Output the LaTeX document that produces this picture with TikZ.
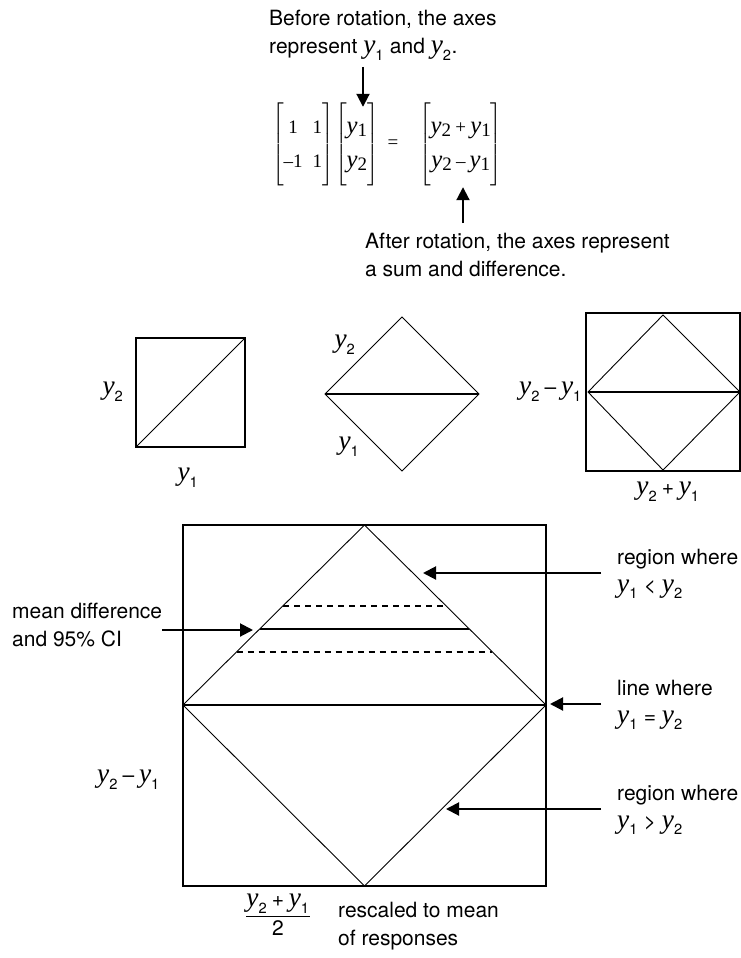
\documentclass[tikz,border=0pt]{standalone}
\usepackage{fix-cm}
\usepackage{amsmath}
\usepackage{fontspec}
\setmainfont{TeX Gyre Heros}
\newfontfamily\serifont{Liberation Serif}
\newfontfamily\yfont{Liberation Serif}[Scale=1.3]
\usetikzlibrary{arrows.meta,calc}

% italic y with a subscript (labels)
\newcommand\yy[1]{\text{\yfont\itshape y}_{\text{#1}}}
% italic y with a full size index (equation)
\newcommand\yb[1]{\text{{\yfont\itshape y}\raisebox{-3pt}{#1}}}
\newcommand\tplus{\mathbin{\text{+}}}
\newcommand\tminus{\mathbin{\text{–}}}
\newcommand\trel[1]{\mathrel{\text{#1}}}
% tall bracketed column
\newcommand\tallbr[1]{\left[\vcenter{\hbox{\rule{0pt}{86pt}}}\begin{matrix}#1\end{matrix}\right]}

\tikzset{
  box/.style={line width=2pt},
  edge/.style={line width=0.9pt},
  ptr/.style={line width=2pt,-{Triangle[length=13pt,width=13pt]}},
  txt/.style={inner sep=0pt,align=left,font=\fontsize{21}{28}\selectfont},
  axlbl/.style={inner sep=0pt,font=\fontsize{21}{25}\selectfont},
  eqn/.style={inner sep=0pt,font=\fontsize{19}{24}\selectfont\serifont\renewcommand\arraystretch{1.4}}
}

\begin{document}
\begin{tikzpicture}[x=1pt,y=-1pt]
\useasboundingbox (0,0) rectangle (741,958);

% the rotation
\node[txt,anchor=north west] (before) at (269,10) {Before rotation, the axes\\represent $\yy{1}$ and $\yy{2}$.};
\node[eqn,anchor=west] (rotmat) at (272,144) {$\tallbr{\text{1}&\text{1}\\\text{–1}&\text{1}}$};
\node[eqn,anchor=west] (yvec) at (335,144) {$\tallbr{\yb{1}\\\yb{2}}$};
\node[eqn] (eqsign) at (393,144) {=};
\node[eqn,anchor=west] (sumdiff) at (419,144) {$\tallbr{\yb{2}\tplus\yb{1}\\\yb{2}\tminus\yb{1}}$};
\node[txt,anchor=north west] (after) at (365,233) {After rotation, the axes represent\\a sum and difference.};
\coordinate (downtail) at (363,67);
\coordinate (uptail) at (463,223);
\draw[ptr] (downtail) -- ([yshift=-6pt]downtail |- yvec.north);
\draw[ptr] (uptail) -- (uptail |- sumdiff.south);

% small square
\draw[box] (136,338) rectangle (245,447);
\draw[edge] (136,447) -- (245,338);
\node[axlbl] (sqy2) at (113,392) {$\yy{2}$};
\node[axlbl] (sqy1) at (188,478) {$\yy{1}$};

% rotated square
\draw[edge] (402,317) -- (479,394) -- (402,471) -- (325,394) -- cycle;
\draw[box] (325,394) -- (479,394);
\node[axlbl] (dmy2) at (345,345) {$\yy{2}$};
\node[axlbl] (dmy1) at (349,447) {$\yy{1}$};

% rotated square in its frame
\draw[box] (586,313) rectangle (740,471);
\draw[edge] (663,315) -- (740,392) -- (663,470) -- (588,392) -- cycle;
\draw[box] (588,392) -- (740,392);
\node[axlbl,anchor=east] (frdiff) at (582,392) {$\yy{2}\tminus\yy{1}$};
\node[axlbl] (frsum) at (668,492) {$\yy{2}\tplus\yy{1}$};

% large frame
\coordinate (dtop) at (364.5,525);
\coordinate (dright) at (546,705);
\coordinate (dbottom) at (364.5,886);
\coordinate (dleft) at (183,705);
\draw[box] (183,525) rectangle (546,886);
\draw[edge] (dtop) -- (dright) -- (dbottom) -- (dleft) -- cycle;
\draw[box] (dleft) -- (dright);
\draw[box] ($(dtop)!0.576!(dleft)$) -- ($(dtop)!0.576!(dright)$);
\draw[box,dash pattern=on 6pt off 5pt] ($(dtop)!0.449!(dleft)$) -- ($(dtop)!0.449!(dright)$);
\draw[box,dash pattern=on 6pt off 5pt] ($(dtop)!0.704!(dleft)$) -- ($(dtop)!0.704!(dright)$);

\node[txt,anchor=west] (meanci) at (12,625) {mean difference\\and 95\% CI};
\node[txt,anchor=west] (regionlt) at (617,574) {region where\\$\yy{1}\trel{<}\yy{2}$};
\node[txt,anchor=west] (lineeq) at (617,705) {line where\\$\yy{1}\trel{=}\yy{2}$};
\node[txt,anchor=west] (regiongt) at (617,810) {region where\\$\yy{1}\trel{>}\yy{2}$};
\node[axlbl,anchor=east] (bigdiff) at (160,780) {$\yy{2}\tminus\yy{1}$};
\node[axlbl] (bigsum) at (278,915) {$\dfrac{\yy{2}\tplus\yy{1}}{\text{2}}$};
\node[txt,anchor=west] (rescaled) at (338,926) {rescaled to mean\\of responses};

\coordinate (meantip) at (253,630);
\coordinate (lttip) at (423,573);
\coordinate (eqtip) at (550,704);
\coordinate (gttip) at (446,809);
\draw[ptr] (meanci.east |- meantip) -- (meantip);
\draw[ptr] ([xshift=-16pt]regionlt.west |- lttip) -- (lttip);
\draw[ptr] ([xshift=-16pt]lineeq.west |- eqtip) -- (eqtip);
\draw[ptr] ([xshift=-16pt]regiongt.west |- gttip) -- (gttip);
\end{tikzpicture}
\end{document}
